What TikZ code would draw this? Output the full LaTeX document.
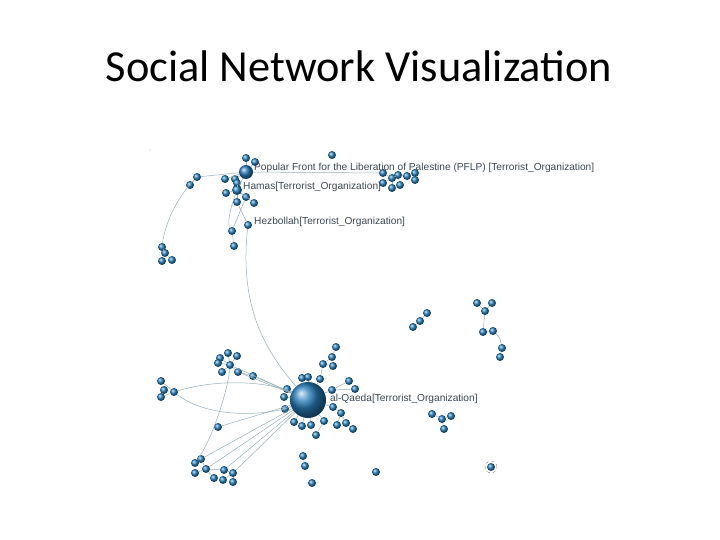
\documentclass[tikz,border=0pt]{standalone}
\usepackage{fontspec}
\setmainfont{Carlito}
\newfontfamily\lab{Liberation Sans}
\begin{document}
\begin{tikzpicture}[x=1bp,y=-1bp,
 nd/.style={circle,inner sep=0pt,minimum size=8bp,ball color={rgb,255:red,40;green,125;blue,185}},
 hub/.style={nd,minimum size=#1},
 ed/.style={draw={rgb,255:red,150;green,175;blue,185},line width=0.5bp},
 lb/.style={font=\lab\fontsize{10.2}{11}\selectfont,text={rgb,255:red,60;green,70;blue,80},anchor=west,inner sep=0pt}]
\useasboundingbox (0,0) rectangle (720,540);
\node[font=\fontsize{44.5}{48}\selectfont,anchor=base] (title) at (359,82) {Social Network Visualization};
% hubs
\node[hub=14bp] (P) at (246,172) {};
\node[hub=10bp] (H) at (237,190) {};
\node[nd] (Z) at (248,225) {};
\node[hub=36bp] (Q) at (308,400) {};
% PFLP / Hamas cluster
\foreach \n/\x/\y in {p1/246/158,p2/255/162,p3/197/177,p4/190/185,p5/225/179,p6/235/179,p7/237/183,p8/226/193,p9/246/197,p10/237/202,p11/254/203,p12/232/231,p13/234/246,p14/162/247,p15/165/253,p16/162/261,p17/172/260,
 r1/383/173,r2/392/178,r3/398/175,r4/407/176,r5/415/173,r6/415/180,r7/383/183,r8/392/188,r9/400/185}
  \node[nd] (\n) at (\x,\y) {};
\node[nd] (s1) at (332,155) {};
\foreach \a/\b in {P/p1,P/p2,P/p5,P/p6,P/p3,P/H,H/p7,H/p8,H/p9,H/p10,H/p11,p10/Z,p9/p12,p12/p13,p14/p15,p15/p16,p15/p17,P/r1,r1/r2,r2/r3,r3/r4,r4/r5,r4/r6,r2/r7,r2/r8,r3/r9}
  \draw[ed] (\a) -- (\b);
\draw[ed] (p3) .. controls (175,200) and (165,225) .. (p14);
\draw[ed] (p4) -- (p3);
\draw[ed] (H) .. controls (228,215) and (228,225) .. (p12);
\draw[ed] (Z) .. controls (240,300) and (260,345) .. (Q);
% al-Qaeda cluster
\foreach \n/\x/\y in {u1/220/358,u2/228/353,u3/237/356,u4/218/363,u5/230/365,u6/222/372,u7/238/372,u8/253/376,
 l1/161/381,l2/164/390,l3/161/397,l4/174/392,
 q1/287/389,q2/284/397,q3/285/409,q4/302/378,q5/308/377,q6/320/379,q7/323/364,q8/332/357,q9/336/347,q10/333/366,q11/332/390,q12/349/381,q13/355/389,q14/333/407,q15/341/413,q16/337/425,q17/346/423,q18/353/429,q19/324/421,q20/316/435,q21/311/425,q22/302/426,q23/294/422,
 w1/218/427,w2/201/459,w3/195/463,w4/206/469,w5/195/473,w6/214/478,w7/224/470,w8/233/473,w9/223/480,w10/233/482,
 b1/303/456,b2/305/466,b3/312/483,b4/376/472,
 c1/413/327,c2/420/321,c3/427/313,
 f1/477/303,f2/485/311,f3/492/303,f4/483/332,f5/493/331,f6/502/348,f7/500/357,
 g1/432/414,g2/442/419,g3/451/416,g4/444/429,h1/491/467}
  \node[nd] (\n) at (\x,\y) {};
\foreach \a/\b in {u5/u1,u5/u2,u5/u3,u5/u4,u5/u6,u5/u7,u7/u8,u8/Q,u7/Q,u5/Q,l4/l1,l4/l2,l4/l3,
 Q/q1,Q/q2,Q/q3,Q/q4,Q/q5,Q/q6,q6/q7,q7/q8,q8/q9,q7/q10,Q/q11,q11/q12,q11/q13,Q/q14,q14/q15,q15/q16,q15/q17,q17/q18,Q/q19,q19/q20,Q/q21,Q/q22,Q/q23,
 w2/w3,w2/w4,w4/w5,w4/w6,w4/w7,w7/w8,w8/w9,w8/w10,w2/Q,w4/Q,w7/Q,w8/Q,b1/b2,
 c1/c2,c2/c3,f1/f2,f2/f3,f2/f4,f4/f5,g1/g2,g2/g3,g2/g4}
  \draw[ed] (\a) -- (\b);
\draw[ed] (f5) .. controls (500,338) .. (f6);
\draw[ed] (f6) -- (f7);
\draw[ed] (l4) .. controls (220,378) and (270,382) .. (Q);
\draw[ed] (l4) .. controls (210,420) and (270,415) .. (Q);
\draw[ed] (u5) .. controls (228,390) and (212,440) .. (w3);
\draw[ed] (w1) -- (Q);
\draw[dashed,gray,line width=0.4bp] (491,467) circle (6bp);
% labels
\node[lb] (tp) at (254,168) {Popular Front for the Liberation of Palestine (PFLP) [Terrorist\_Organization]};
\node[lb] (th) at (243,187) {Hamas[Terrorist\_Organization]};
\node[lb] (tz) at (254,222) {Hezbollah[Terrorist\_Organization]};
\node[lb] (tq) at (330,399) {al-Qaeda[Terrorist\_Organization]};
\node[circle,fill=gray!40,inner sep=0.4bp] (dot) at (150,150) {};
\end{tikzpicture}
\end{document}
